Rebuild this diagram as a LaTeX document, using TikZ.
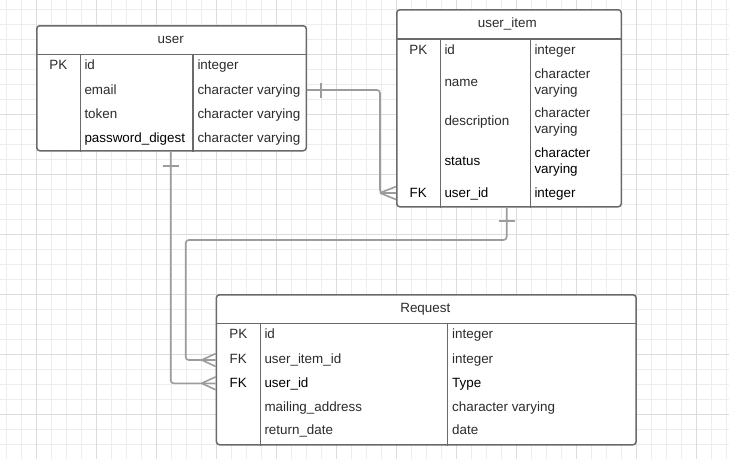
\documentclass[tikz,border=0pt]{standalone}
\usepackage{fontspec}
\setmainfont{Liberation Sans}
\definecolor{gminor}{HTML}{EDEDED}
\definecolor{gmajor}{HTML}{DCDCDC}
\definecolor{tborder}{HTML}{6A6A6A}
\definecolor{cline}{HTML}{9C9C9C}
\definecolor{tgray}{HTML}{2B2B2B}
\begin{document}
\begin{tikzpicture}[x=1pt,y=-1pt,
  minorgrid/.style={draw=gminor,line width=1pt},
  majorgrid/.style={draw=gmajor,line width=1pt},
  tbl/.style={draw=tborder,line width=1.5pt,fill=white,rounded corners=3pt,rectangle,inner sep=0pt,anchor=north west},
  tline/.style={draw=tborder,line width=1.5pt},
  conn/.style={draw=cline,line width=1.6pt,rounded corners=3pt},
  foot/.style={draw=cline,line width=1.6pt},
  lbl/.style={inner sep=0pt,anchor=base west,text=tgray,font=\fontsize{13.4}{16}\selectfont},
  clbl/.style={lbl,anchor=base},
  dark/.style={text=black}]
\useasboundingbox (0,0) rectangle (729,459);
\fill[white] (0,0) rectangle (729,459);
% grid
\foreach \i in {0,...,48} \draw[minorgrid] ({6.7+15*\i},0) -- ({6.7+15*\i},459);
\foreach \j in {0,...,29} \draw[minorgrid] (0,{9.3+15*\j}) -- (729,{9.3+15*\j});
\foreach \i in {0,...,11} \draw[majorgrid] ({36.7+60*\i},0) -- ({36.7+60*\i},459);
\foreach \j in {0,...,6} \draw[majorgrid] (0,{54.3+60*\j}) -- (729,{54.3+60*\j});

% row anchors
\coordinate (r-uemail) at (0,90);
\coordinate (r-uiuser) at (0,193);
\coordinate (r-ruitem) at (0,360);
\coordinate (r-ruser) at (0,383.3);
\coordinate (k-uitem) at (380,0);
\coordinate (k-ruitem) at (185.7,0);
\coordinate (k-rjog) at (0,240);
\coordinate (k-user) at (170.7,0);
\coordinate (k-ui) at (506.7,0);

% ---------- tables ----------
\node[tbl,minimum width=269.5pt,minimum height=125pt] (user) at (36,25) {};
\draw[tline] (user.west |- 0,54.3) -- (user.east |- 0,54.3);
\draw[tline] (80.7,54.3) -- (80.7,54.3 |- user.south);
\draw[tline] (193,54.3) -- (193,54.3 |- user.south);

\node[tbl,minimum width=224.5pt,minimum height=197pt] (uitem) at (396,9) {};
\draw[tline] (uitem.west |- 0,39) -- (uitem.east |- 0,39);
\draw[tline] (440.3,39) -- (440.3,39 |- uitem.south);
\draw[tline] (530.3,39) -- (530.3,39 |- uitem.south);

\node[tbl,minimum width=419.6pt,minimum height=150pt] (req) at (215.7,294) {};
\draw[tline] (req.west |- 0,323.3) -- (req.east |- 0,323.3);
\draw[tline] (260.7,323.3) -- (260.7,323.3 |- req.south);
\draw[tline] (447.7,323.3) -- (447.7,323.3 |- req.south);

% ---------- user texts ----------
\node[clbl] (t-user) at (170.7,43.3) {user};
\node[clbl] (u-pk) at (58.3,69.8) {PK};
\node[lbl] (u-id) at (84.3,69.8) {id};
\node[lbl] (u-email) at (84.3,94.1) {email};
\node[lbl] (u-token) at (84.3,118.1) {token};
\node[lbl,dark] (u-pwd) at (84.3,142.1) {password\_digest};
\node[lbl] (u-idt) at (197.3,69.8) {integer};
\node[lbl] (u-emailt) at (197.3,94.1) {character varying};
\node[lbl] (u-tokent) at (197.3,118.1) {character varying};
\node[lbl] (u-pwdt) at (197.3,142.1) {character varying};

% ---------- user_item texts ----------
\node[clbl] (t-uitem) at (507.3,27.5) {user\_item};
\node[clbl] (ui-pk) at (418.3,54.1) {PK};
\node[lbl] (ui-id) at (444.3,54.1) {id};
\node[lbl] (ui-idt) at (534.3,54.1) {integer};
\node[lbl] (ui-name) at (444.3,86.5) {name};
\node[lbl] (ui-namet1) at (534.3,78.1) {character};
\node[lbl] (ui-namet2) at (534.3,94.1) {varying};
\node[lbl] (ui-desc) at (444.3,125.5) {description};
\node[lbl] (ui-desct1) at (534.3,117.1) {character};
\node[lbl] (ui-desct2) at (534.3,133.3) {varying};
\node[lbl,dark] (ui-status) at (444.3,165.5) {status};
\node[lbl,dark] (ui-statt1) at (534.3,157.1) {character};
\node[lbl,dark] (ui-statt2) at (534.3,173.1) {varying};
\node[clbl,dark] (ui-fk) at (418.3,197.1) {FK};
\node[lbl,dark] (ui-uid) at (444.3,197.1) {user\_id};
\node[lbl,dark] (ui-uidt) at (534.3,197.1) {integer};

% ---------- Request texts ----------
\node[clbl] (t-req) at (425.3,312.1) {Request};
\node[clbl] (r-pk) at (238.3,338.8) {PK};
\node[lbl] (r-id) at (264.3,338.8) {id};
\node[lbl] (r-idt) at (452,338.8) {integer};
\node[clbl] (r-fk1) at (238.3,363.5) {FK};
\node[lbl] (r-uiid) at (264.3,363.5) {user\_item\_id};
\node[lbl] (r-uiidt) at (452,363.5) {integer};
\node[clbl,dark] (r-fk2) at (238.3,387.1) {FK};
\node[lbl,dark] (r-uid) at (264.3,387.1) {user\_id};
\node[lbl,dark] (r-uidt) at (452,387.1) {Type};
\node[lbl] (r-mail) at (264.3,411.5) {mailing\_address};
\node[lbl] (r-mailt) at (452,411.5) {character varying};
\node[lbl] (r-ret) at (264.3,434.8) {return\_date};
\node[lbl] (r-rett) at (452,434.8) {date};

% ---------- connectors ----------
% user.email -> user_item.user_id
\draw[conn] (user.east |- r-uemail) -| (k-uitem |- r-uiuser) -- (uitem.west |- r-uiuser);
\draw[foot] (320.7,82.5) -- (320.7,97.5);
\draw[foot] (k-uitem |- r-uiuser) -- ([yshift=6.5pt]uitem.west |- r-uiuser);
\draw[foot] (k-uitem |- r-uiuser) -- ([yshift=-6.5pt]uitem.west |- r-uiuser);

% user_item -> Request.user_item_id
\draw[conn] (k-ui |- uitem.south) -- (k-ui |- k-rjog) -- (k-ruitem |- k-rjog) -- (k-ruitem |- r-ruitem) -- (req.west |- r-ruitem);
\draw[foot] (498.7,221) -- (514.7,221);
\draw[foot] (201.7,360) -- (req.west |- 0,353.5);
\draw[foot] (201.7,360) -- (req.west |- 0,366.5);

% user -> Request.user_id
\draw[conn] (k-user |- user.south) |- (req.west |- r-ruser);
\draw[foot] (162.7,165.7) -- (178.7,165.7);
\draw[foot] (201.7,383.3) -- (req.west |- 0,376.8);
\draw[foot] (201.7,383.3) -- (req.west |- 0,389.8);
\end{tikzpicture}
\end{document}
